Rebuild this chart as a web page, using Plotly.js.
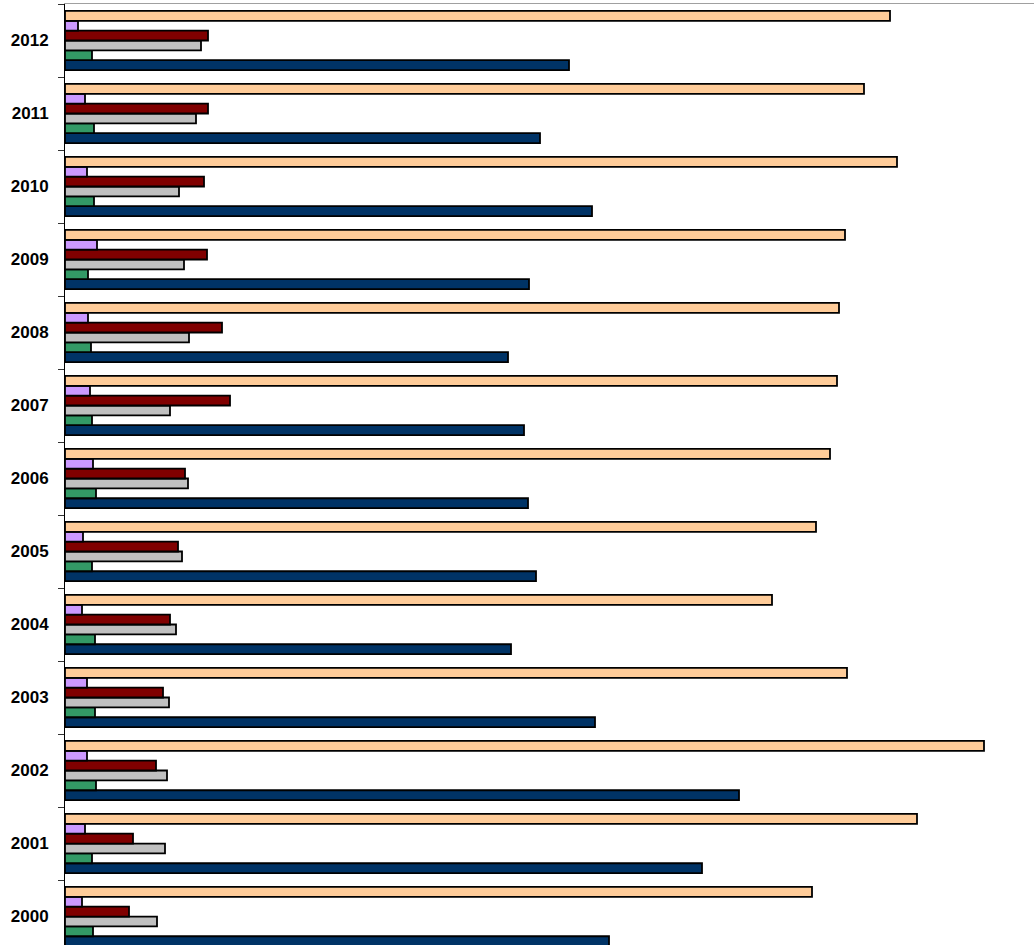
<!DOCTYPE html>
<html>
<head>
<meta charset="utf-8">
<script src="https://cdn.plot.ly/plotly-3.0.1.min.js"></script>
<style>html,body{margin:0;padding:0;background:#fff;}#chart{width:1034px;height:945px;}</style>
</head>
<body>
<div id="chart"></div>
<script>
var years = ["2000","2001","2002","2003","2004","2005","2006","2007","2008","2009","2010","2011","2012"];
var peach    = [747, 852, 919, 782, 707, 751, 765, 772, 774, 780, 832, 799, 825];
var lavender = [17, 20, 22, 22, 17, 18, 28, 25, 23, 32, 22, 20, 13];
var darkred  = [64, 68, 91, 98, 105, 113, 120, 165, 157, 142, 139, 143, 143];
var gray     = [92, 100, 102, 104, 111, 117, 123, 105, 124, 119, 114, 131, 136];
var green    = [28, 27, 31, 30, 30, 27, 31, 27, 26, 23, 29, 29, 27];
var navy     = [544, 637, 674, 530, 446, 471, 463, 459, 443, 464, 527, 475, 504];

function tr(vals, color) {
  return {type: 'bar', orientation: 'h', y: years, x: vals,
    marker: {color: color, line: {color: '#000', width: 1.8}},
    hoverinfo: 'x+y', showlegend: false};
}
var data = [
  tr(navy, '#003366'),
  tr(green, '#339966'),
  tr(gray, '#C0C0C0'),
  tr(darkred, '#800000'),
  tr(lavender, '#CC99FF'),
  tr(peach, '#FFCC99')
];
var layout = {
  width: 1034, height: 945,
  margin: {l: 65, r: 0, t: 4, b: 0, pad: 0},
  paper_bgcolor: '#fff', plot_bgcolor: '#fff',
  barmode: 'group', bargap: 0.19, bargroupgap: 0,
  showlegend: false,
  xaxis: {range: [0, 969], side: 'top', showline: true, linecolor: '#a0a0a0', linewidth: 1.5,
    showgrid: false, zeroline: false, showticklabels: false, ticks: ''},
  yaxis: {type: 'category', range: [-0.39, 12.5], showline: true, linecolor: '#000', linewidth: 1,
    showgrid: false, zeroline: false, ticks: 'outside', ticklen: 6, tickwidth: 1, tickcolor: '#333',
    tickson: 'boundaries', ticklabelstandoff: 12,
    tickfont: {family: 'Arial, "Liberation Sans", sans-serif', size: 17, color: '#000', weight: 'bold'}}
};
Plotly.newPlot('chart', data, layout, {displayModeBar: false, staticPlot: true});
</script>
</body>
</html>
